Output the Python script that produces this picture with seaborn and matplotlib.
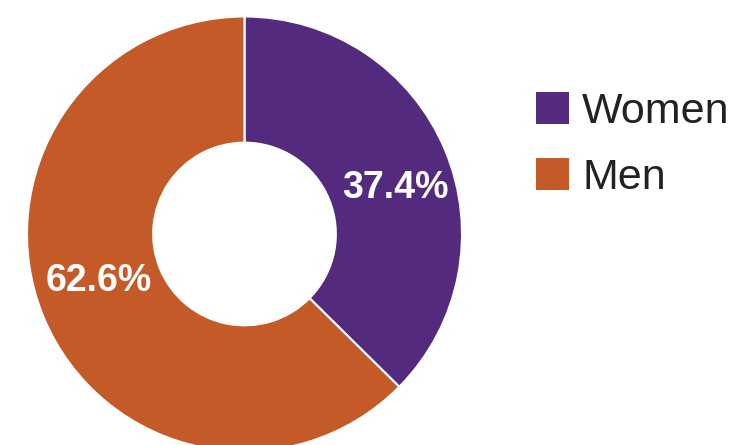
import matplotlib
matplotlib.use("Agg")
import matplotlib.pyplot as plt
import seaborn as sns
import numpy as np
from matplotlib.patches import Patch

categories = ["Women", "Men"]
values = [37.4, 62.6]
colors = ["#542A7E", "#C35A27"]

sns.set_theme(style="white")
plt.rcParams['font.family'] = ['Liberation Sans', 'DejaVu Sans']

W, H = 734, 445
fig = plt.figure(figsize=(W / 100, H / 100), dpi=100)
cx, cy, R = 244.5, 445 - 234, 217.5
ax = fig.add_axes([(cx - R) / W, (cy - R) / H, 2 * R / W, 2 * R / H])

wedges, _ = ax.pie(values, colors=colors, startangle=90, counterclock=False,
                   radius=1.0, wedgeprops=dict(width=1 - 0.42, edgecolor="white", linewidth=1.5))
ax.set_xlim(-1, 1)
ax.set_ylim(-1, 1)
ax.set_aspect("equal")
ax.axis("off")

label_pos = [(0.692, 0.21), (-0.669, -0.215)]
for v, (x, y) in zip(values, label_pos):
    ax.text(x, y, f"{v}%", ha="center", va="center", color="white",
            fontsize=27, fontweight="bold")

handles = [Patch(facecolor=c, edgecolor="none") for c in colors]
fig.legend(handles, categories, loc="upper left", bbox_to_anchor=(536 / W, 1 - 91.5 / H),
           frameon=False, fontsize=31, handlelength=0.77, handleheight=0.77,
           handletextpad=0.3, labelspacing=0.62, borderpad=0, borderaxespad=0,
           labelcolor="#222222")

fig.savefig("out.png", dpi=100)
